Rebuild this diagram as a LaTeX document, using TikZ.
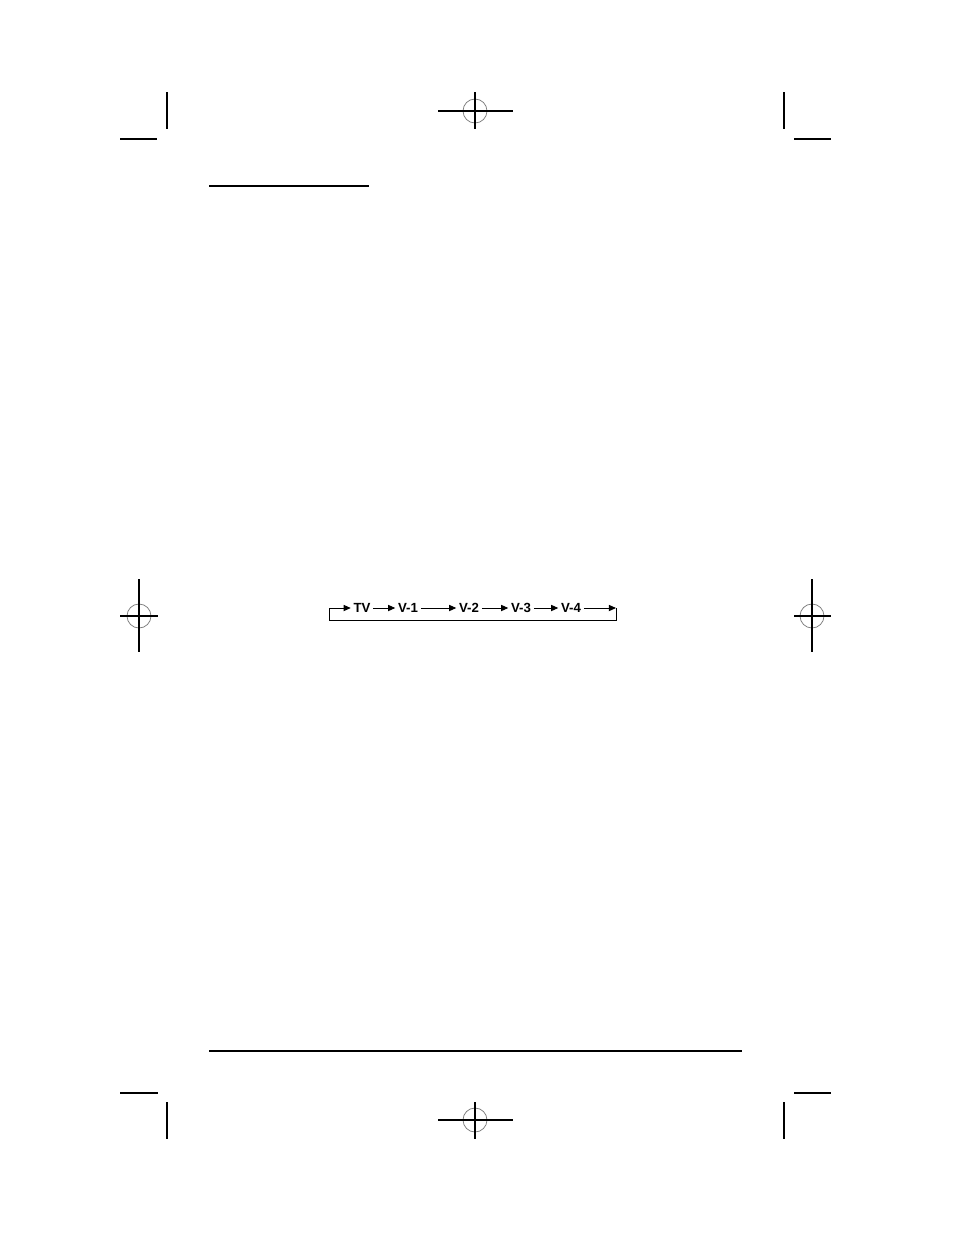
\documentclass[tikz,border=0pt]{standalone}
\usepackage{fontspec}
\setmainfont{Liberation Sans}
\usetikzlibrary{arrows.meta}

\tikzset{
  mark line/.style={line width=0.7pt, black},
  reg circle/.style={line width=0.5pt, gray},
  chan/.style={font=\fontsize{8.5}{10}\selectfont\bfseries, inner sep=1.6pt},
  chanarrow/.style={line width=0.6pt, -{Triangle[length=4.6pt,width=4pt]}}
}

\begin{document}
\begin{tikzpicture}[x=0.6415pt,y=-0.6415pt]

    % Cadre de la page
    \useasboundingbox (0,0) rectangle (954,1235);

    % Traits de coupe
    \draw[mark line] (167,92) -- (167,129);
    \draw[mark line] (120,139) -- (157,139);
    \draw[mark line] (784,92) -- (784,129);
    \draw[mark line] (794,139) -- (831,139);
    \draw[mark line] (120,1093) -- (158,1093);
    \draw[mark line] (167,1102) -- (167,1139);
    \draw[mark line] (794,1093) -- (831,1093);
    \draw[mark line] (784,1102) -- (784,1139);

    % Reperes de montage
    \draw[reg circle] (475,111) circle(12);
    \draw[mark line] (438,111) -- (513,111);
    \draw[mark line] (475,92) -- (475,129);

    \draw[reg circle] (139,616) circle(12);
    \draw[mark line] (120,616) -- (158,616);
    \draw[mark line] (139,579) -- (139,652);

    \draw[reg circle] (812,616) circle(12);
    \draw[mark line] (794,616) -- (831,616);
    \draw[mark line] (812,579) -- (812,652);

    \draw[reg circle] (475,1120) circle(12);
    \draw[mark line] (438,1120) -- (513,1120);
    \draw[mark line] (475,1102) -- (475,1139);

    % Filets de titre et de pied
    \draw[line width=0.8pt] (209,186) -- (369,186);
    \draw[line width=1.5pt] (209,1051) -- (742,1051);

    % Sequence des sources
    \node[chan] (tv) at (362,608) {TV};
    \node[chan] (v1) at (408,608) {V-1};
    \node[chan] (v2) at (469,608) {V-2};
    \node[chan] (v3) at (521,608) {V-3};
    \node[chan] (v4) at (571,608) {V-4};
    \coordinate (loopin) at (329,608);
    \coordinate (loopout) at (616,608);

    % Fleches entre les sources
    \draw[chanarrow] (tv) -- (v1);
    \draw[chanarrow] (v1) -- (v2);
    \draw[chanarrow] (v2) -- (v3);
    \draw[chanarrow] (v3) -- (v4);
    \draw[chanarrow] (v4) -- (loopout);

    % Retour au debut
    \draw[chanarrow] (loopout) -- ++(0,12) -| (loopin) -- (tv);

\end{tikzpicture}
\end{document}
